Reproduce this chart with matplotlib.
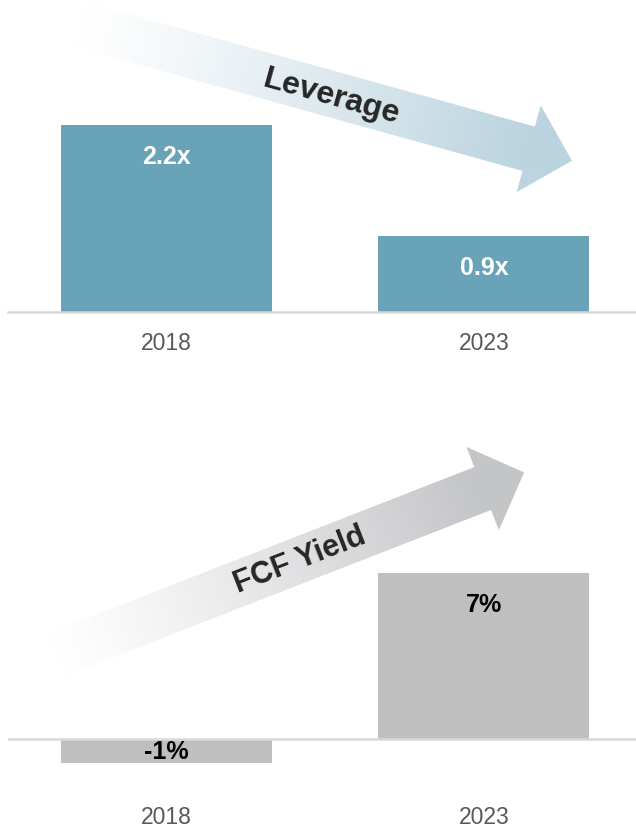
import numpy as np
import matplotlib.pyplot as plt
from matplotlib.patches import Polygon

years = ['2018', '2023']
leverage = [2.2, 0.9]
leverage_labels = ['2.2x', '0.9x']
fcf_yield = [-1, 7]
fcf_labels = ['-1%', '7%']

plt.rcParams['font.family'] = ['Liberation Sans', 'DejaVu Sans']

W, H = 636, 828
fig = plt.figure(figsize=(W / 100, H / 100), dpi=100)


def fpos(x0, y0, x1, y1):
    # pixel box measured from top-left -> figure fraction rect
    return [x0 / W, 1 - y1 / H, (x1 - x0) / W, (y1 - y0) / H]


# overlay in pixel units for the decorative arrows
ov = fig.add_axes([0, 0, 1, 1])
ov.set_xlim(0, W)
ov.set_ylim(H, 0)
ov.axis('off')


def gradient_arrow(ax, tail, ang, length, shaft_w, head_w, head_len, color):
    a = np.radians(ang)
    d = np.array([np.cos(a), -np.sin(a)])
    n = np.array([-d[1], d[0]])
    t = np.array(tail, dtype=float)
    b = t + d * length
    tip = b + d * head_len
    pts = np.array([t + n * shaft_w / 2, b + n * shaft_w / 2, b + n * head_w / 2, tip,
                    b - n * head_w / 2, b - n * shaft_w / 2, t - n * shaft_w / 2])
    x0, y0 = pts.min(axis=0) - 2
    x1, y1 = pts.max(axis=0) + 2
    X, Y = np.meshgrid(np.arange(x0, x1, 0.5), np.arange(y0, y1, 0.5))
    s = ((X - t[0]) * d[0] + (Y - t[1]) * d[1]) / (length + head_len)
    f = (np.clip(s / 0.9, 0, 1) ** 1.15)[..., None]
    c = np.array(plt.matplotlib.colors.to_rgb(color))
    rgb = 1 - (1 - c) * f
    im = ax.imshow(rgb, extent=(x0, x1, y0, y1), origin='lower', aspect='auto',
                   interpolation='bilinear')
    patch = Polygon(pts, closed=True, facecolor='none', edgecolor='none')
    ax.add_patch(patch)
    im.set_clip_path(patch)
    ax.set_xlim(0, W)
    ax.set_ylim(H, 0)
    return t, d


t, d = gradient_arrow(ov, (82.5, 26), -15.5, 463, 46, 90, 45, '#BBD4DF')
tx = 332
ov.text(tx, t[1] + (tx - t[0]) * d[1] / d[0] + 2, 'Leverage', rotation=-15.5,
        rotation_mode='anchor', ha='center', va='center', fontsize=23,
        fontweight='bold', color='#262626')

t, d = gradient_arrow(ov, (57.8, 655.2), 21.3, 456, 46, 89.4, 44.5, '#C4C5C8')
tx = 300
ov.text(tx, t[1] + (tx - t[0]) * d[1] / d[0], 'FCF Yield', rotation=21.3,
        rotation_mode='anchor', ha='center', va='center', fontsize=22,
        fontweight='bold', color='#262626')

x = np.arange(len(years))
bar_w = 0.665

# top panel: leverage
ax1 = fig.add_axes(fpos(8, 0, 636, 313))
ax1.patch.set_alpha(0)
ax1.bar(x, leverage, width=bar_w, color='#69A3B8')
ax1.set_xlim(-0.499, 1.479)
ax1.set_ylim(0, 313 / 85)
for i, (v, lbl) in enumerate(zip(leverage, leverage_labels)):
    ax1.annotate(lbl, (i, v), xytext=(0, -22.5), textcoords='offset points',
                 ha='center', va='center', fontsize=18, fontweight='bold', color='white')
ax1.axhline(0, color='#D9D9D9', lw=1.8, clip_on=False)
ax1.set_xticks(x, years)
ax1.set_yticks([])
ax1.tick_params(axis='x', length=0, pad=13.5, labelsize=16.5, labelcolor='#595959')
for sp in ax1.spines.values():
    sp.set_visible(False)

# bottom panel: FCF yield
ax2 = fig.add_axes(fpos(8, 430, 636, 780))
ax2.patch.set_alpha(0)
ax2.bar(x, fcf_yield, width=bar_w, color='#BFBFBF')
ax2.set_xlim(-0.499, 1.479)
ax2.set_ylim(-40 / 23.71, 310 / 23.71)
for i, (v, lbl) in enumerate(zip(fcf_yield, fcf_labels)):
    if v > 0:
        ax2.annotate(lbl, (i, v), xytext=(0, -22.5), textcoords='offset points',
                     ha='center', va='center', fontsize=18, fontweight='bold', color='black')
    else:
        ax2.annotate(lbl, (i, v / 2), ha='center', va='center', fontsize=18,
                     fontweight='bold', color='black')
ax2.axhline(0, color='#D9D9D9', lw=1.8)
ax2.set_xticks(x, years)
ax2.set_yticks([])
ax2.tick_params(axis='x', length=0, pad=18.5, labelsize=16.5, labelcolor='#595959')
for sp in ax2.spines.values():
    sp.set_visible(False)

fig.savefig('out.png', dpi=100)
